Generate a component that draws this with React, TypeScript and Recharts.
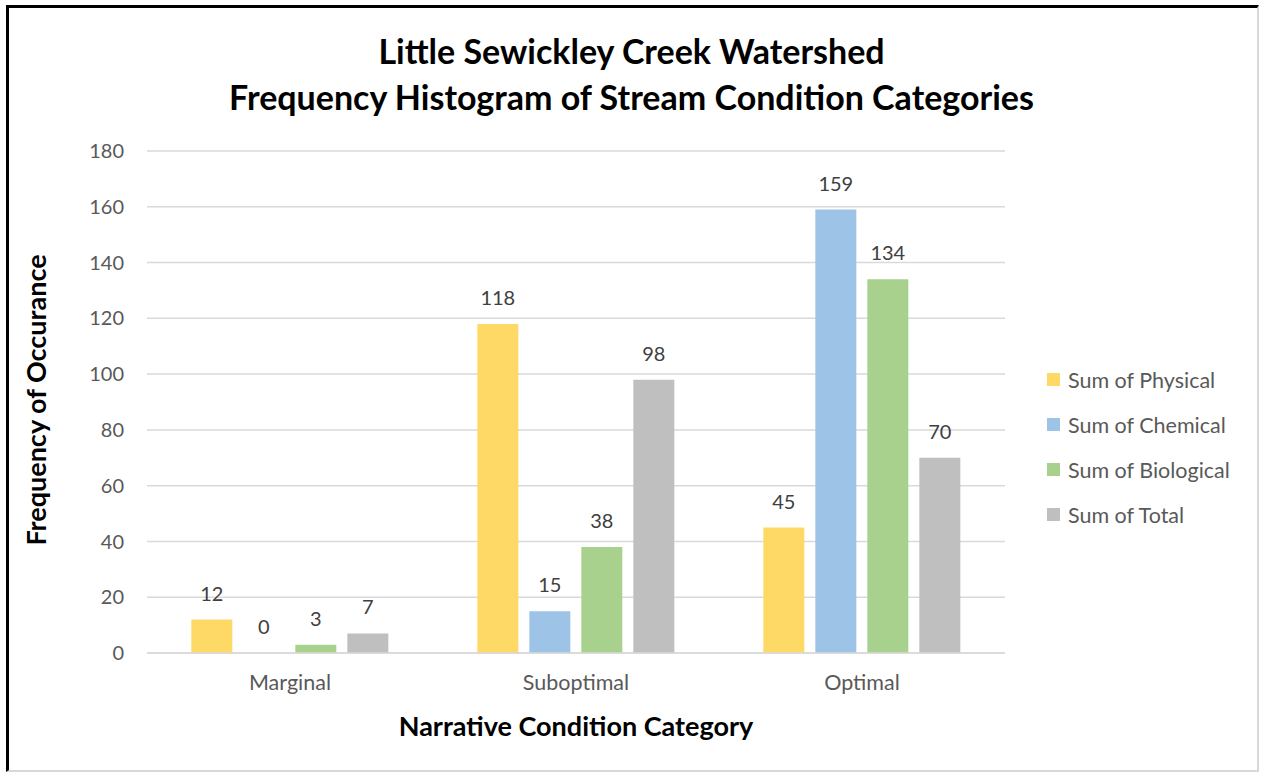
import { BarChart, Bar, XAxis, YAxis, CartesianGrid, Legend, LabelList } from 'recharts';

const categories = ['Marginal', 'Suboptimal', 'Optimal'];
const physical = [12, 118, 45];
const chemical = [0, 15, 159];
const biological = [3, 38, 134];
const total = [7, 98, 70];
const yTicks = [0, 20, 40, 60, 80, 100, 120, 140, 160, 180];

const series = [
  { key: 'physical', name: 'Sum of Physical', color: '#FFD966' },
  { key: 'chemical', name: 'Sum of Chemical', color: '#9DC3E6' },
  { key: 'biological', name: 'Sum of Biological', color: '#A9D18E' },
  { key: 'total', name: 'Sum of Total', color: '#BFBFBF' },
];

const data = categories.map((name, i) => ({
  name,
  physical: physical[i],
  chemical: chemical[i],
  biological: biological[i],
  total: total[i],
}));

const FONT = 'Lato, "Open Sans", sans-serif';

function LegendBox() {
  return (
    <div style={{ fontFamily: FONT }}>
      {series.map((s) => (
        <div key={s.key} style={{ display: 'flex', alignItems: 'center', height: 45 }}>
          <span style={{ width: 13, height: 13, background: s.color, display: 'inline-block', marginRight: 8 }} />
          <span style={{ fontSize: 21.5, color: '#595959' }}>{s.name}</span>
        </div>
      ))}
    </div>
  );
}

// keep zero-valued bars in the layout so their "0" label is still drawn
const keepZero = (value: any) => (value === 0 ? 0.01 : 0);

export default function App() {
  return (
    <div style={{ position: 'absolute', left: 0, top: 0, width: 1263, height: 775, background: '#fff', fontFamily: FONT }}>
      <div
        style={{
          position: 'absolute', left: 6, top: 5, width: 1253, height: 767,
          borderTop: '3px solid #000', borderLeft: '3px solid #000',
          borderRight: '2px solid #d9d9d9', borderBottom: '2px solid #d9d9d9',
          boxSizing: 'border-box',
        }}
      />
      <div style={{ position: 'absolute', left: 0, width: 1263, top: 28, textAlign: 'center', fontWeight: 700, fontSize: 34, lineHeight: '46px', color: '#000' }}>
        Little Sewickley Creek Watershed<br />Frequency Histogram of Stream Condition Categories
      </div>
      <BarChart
        width={1263}
        height={775}
        data={data}
        margin={{ top: 151, right: 258, bottom: 92, left: 97 }}
        barGap={11}
        barCategoryGap="15.5%"
      >
        <CartesianGrid vertical={false} stroke="#D9D9D9" strokeWidth={1.5} />
        <XAxis
          dataKey="name"
          height={30}
          axisLine={{ stroke: '#D9D9D9', strokeWidth: 1.5 }}
          tickLine={false}
          tickMargin={16}
          tick={{ fill: '#595959', fontSize: 21.5, fontFamily: FONT }}
        />
        <YAxis
          width={50}
          domain={[0, 180]}
          ticks={yTicks}
          axisLine={false}
          tickLine={false}
          tickMargin={17}
          tick={{ fill: '#595959', fontSize: 20, fontFamily: FONT }}
        />
        <Legend
          layout="vertical"
          align="center"
          verticalAlign="middle"
          content={<LegendBox />}
          wrapperStyle={{ left: 1047, top: 357, width: 215 }}
        />
        {series.map((s) => (
          <Bar key={s.key} dataKey={s.key} name={s.name} fill={s.color} minPointSize={keepZero} isAnimationActive={false}>
            <LabelList dataKey={s.key} position="top" offset={19} fill="#404040" fontSize={20} fontFamily={FONT} />
          </Bar>
        ))}
      </BarChart>
      <div style={{ position: 'absolute', left: 35, top: 400, transform: 'translate(-50%, -50%) rotate(-90deg)', whiteSpace: 'nowrap', fontWeight: 700, fontSize: 27, color: '#000' }}>
        Frequency of Occurance
      </div>
      <div style={{ position: 'absolute', left: 576, top: 725, transform: 'translate(-50%, -50%)', whiteSpace: 'nowrap', fontWeight: 700, fontSize: 27, color: '#000' }}>
        Narrative Condition Category
      </div>
    </div>
  );
}
